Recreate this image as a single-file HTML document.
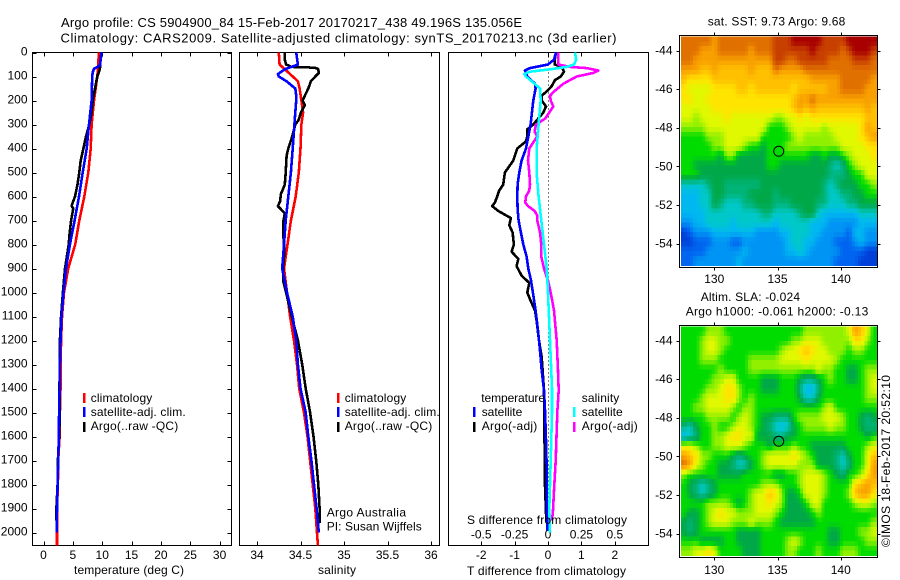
<!DOCTYPE html>
<html>
<head>
<meta charset="utf-8">
<title>Argo profile</title>
<style>
html,body{margin:0;padding:0;background:#fff;width:900px;height:580px;overflow:hidden}
svg{display:block}
text{font-family:"Liberation Sans",sans-serif;font-size:12px;fill:#000}
.t13{font-size:13px}
.frame{fill:none;stroke:#000;stroke-width:1;shape-rendering:crispEdges}
.tick{stroke:#000;stroke-width:1;shape-rendering:crispEdges}
.ser{fill:none;stroke-width:2.6;stroke-linejoin:round;shape-rendering:crispEdges}
</style>
</head>
<body>
<svg id="chart" xmlns="http://www.w3.org/2000/svg" width="900" height="580" viewBox="0 0 900 580">
<text class="t13" x="61" y="27" textLength="461" lengthAdjust="spacing">Argo profile: CS 5904900_84 15-Feb-2017 20170217_438 49.196S 135.056E</text>
<text class="t13" x="60.5" y="42.5" textLength="556" lengthAdjust="spacing">Climatology: CARS2009. Satellite-adjusted climatology: synTS_20170213.nc (3d earlier)</text>

<rect class="frame" x="32.5" y="52.5" width="199" height="493"/>
<rect class="frame" x="239.5" y="52.5" width="200" height="493"/>
<rect class="frame" x="448.5" y="52.5" width="200" height="493"/>
<g id="axes"></g>
<g id="series"></g>

<text x="74" y="574" textLength="110" lengthAdjust="spacing">temperature (deg C)</text>
<text x="318" y="574" textLength="38" lengthAdjust="spacing">salinity</text>
<text x="467" y="575" textLength="159" lengthAdjust="spacing">T difference from climatology</text>
<text x="467" y="524" textLength="160" lengthAdjust="spacing">S difference from climatology</text>

<g>
<rect x="83" y="393" width="2.5" height="10" fill="#f00"/>
<rect x="83" y="407" width="2.5" height="10" fill="#00f"/>
<rect x="83" y="422" width="2.5" height="10" fill="#000"/>
<text x="90.7" y="402" textLength="61.6" lengthAdjust="spacing">climatology</text>
<text x="90.7" y="416" textLength="95" lengthAdjust="spacing">satellite-adj. clim.</text>
<text x="90.7" y="430" textLength="87.6" lengthAdjust="spacing">Argo(..raw -QC)</text>
</g>
<g>
<rect x="337" y="393" width="2.5" height="10" fill="#f00"/>
<rect x="337" y="407" width="2.5" height="10" fill="#00f"/>
<rect x="337" y="422" width="2.5" height="10" fill="#000"/>
<text x="344.7" y="402" textLength="61.6" lengthAdjust="spacing">climatology</text>
<text x="344.7" y="416" textLength="95" lengthAdjust="spacing">satellite-adj. clim.</text>
<text x="344.7" y="430" textLength="87.6" lengthAdjust="spacing">Argo(..raw -QC)</text>
</g>
<text x="326.7" y="516.7" textLength="79.3" lengthAdjust="spacing">Argo Australia</text>
<text x="326.7" y="530.7" textLength="95" lengthAdjust="spacing">PI: Susan Wijffels</text>

<g>
<rect x="473" y="407" width="2.5" height="10" fill="#00f"/>
<rect x="473" y="422" width="2.5" height="10" fill="#000"/>
<rect x="573" y="407" width="2.5" height="10" fill="#0ff"/>
<rect x="573" y="422" width="2.5" height="10" fill="#f0f"/>
<text x="481.3" y="402" textLength="63.7" lengthAdjust="spacing">temperature</text>
<text x="481.7" y="416" textLength="40.6" lengthAdjust="spacing">satellite</text>
<text x="481.7" y="430" textLength="55.6" lengthAdjust="spacing">Argo(-adj)</text>
<text x="581.7" y="402" textLength="37.6" lengthAdjust="spacing">salinity</text>
<text x="581.7" y="416" textLength="41" lengthAdjust="spacing">satellite</text>
<text x="581.7" y="430" textLength="56" lengthAdjust="spacing">Argo(-adj)</text>
</g>

<text x="707.7" y="25.7" textLength="137.6" lengthAdjust="spacing">sat. SST: 9.73  Argo: 9.68</text>
<text x="700.7" y="301" textLength="99.3" lengthAdjust="spacing">Altim. SLA: -0.024</text>
<text x="685.7" y="315.7" textLength="182.6" lengthAdjust="spacing">Argo h1000: -0.061  h2000: -0.13</text>
<g id="maps"></g>
<text transform="translate(890,547) rotate(-90)" x="0" y="0" textLength="172" lengthAdjust="spacing">©IMOS 18-Feb-2017 20:52:10</text>
</svg>
<script>
/* depth levels (m) */
const tempDepths = [0,50,100,200,300,400,500,600,700,800,900,1000,1100,1200,1300,1400,1500,1600,1700,1800,1900,2000,2054];
const tempClim = [9.4,9.35,9.17,8.6,8.2,8.04,7.64,6.95,6.1,5.4,4.2,3.5,3.15,3.0,2.9,2.9,2.8,2.75,2.5,2.45,2.3,2.3,2.3];
const satDepthsT = [0,54,68,82,100,200,300,400,500,600,700,800,900,1000,1100,1200,1300,1400,1500,1600,1700,1800,1900,2000];
const tempSat = [9.9,9.6,8.6,8.38,8.3,8.2,7.75,7.36,6.68,6.05,5.3,4.5,3.83,3.4,3.07,2.9,2.8,2.75,2.65,2.6,2.5,2.4,2.3,2.25];
const argoDepthsT = [0,50,70,100,150,200,250,300,350,400,450,500,550,600,630,640,650,700,750,800,900,1000,1100,1200,1400,1500,1600,1700,1800,1900,1950];
const tempArgo = [9.85,9.65,9.6,9.17,8.77,8.38,8.2,7.8,7.24,6.8,6.33,6.1,5.8,5.37,4.9,4.8,5.08,4.7,4.46,4.3,3.66,3.3,3.0,2.8,2.72,2.8,2.65,2.45,2.4,2.2,2.2];

const salClimDepths = [0,50,70,100,120,150,200,250,300,400,500,600,700,800,900,1000,1100,1200,1300,1400,1500,1600,1700,1800,1900,2000,2054];
const salClim = [34.25,34.26,34.32,34.41,34.47,34.49,34.51,34.53,34.51,34.5,34.48,34.445,34.39,34.35,34.31,34.345,34.38,34.425,34.46,34.485,34.54,34.58,34.61,34.64,34.67,34.69,34.7];
const salSatDepths = [0,50,70,90,100,120,150,180,200,300,400,500,600,700,800,900,1000,1100,1200,1300,1400,1500,1600,1700,1800,1900,2000];
const salSat = [34.45,34.47,34.32,34.24,34.25,34.34,34.44,34.45,34.45,34.43,34.41,34.39,34.36,34.33,34.31,34.29,34.345,34.41,34.45,34.47,34.5,34.56,34.59,34.625,34.655,34.685,34.71];
const salArgoDepths = [0,30,50,60,62,65,70,85,100,120,150,180,200,220,250,280,300,350,400,430,500,550,590,620,640,670,700,750,800,850,900,950,1000,1100,1200,1300,1400,1500,1600,1700,1800,1900,1960];
const salArgo = [34.32,34.32,34.335,34.4,34.59,34.686,34.705,34.71,34.67,34.62,34.59,34.55,34.525,34.55,34.505,34.48,34.44,34.405,34.36,34.34,34.33,34.32,34.275,34.265,34.24,34.32,34.305,34.3,34.31,34.31,34.3,34.3,34.335,34.4,34.47,34.52,34.56,34.61,34.65,34.68,34.705,34.72,34.72];

const diffSatTDepths = [0,30,50,65,75,100,130,150,200,300,350,400,450,500,550,600,650,700,750,800,850,900,950,992,1075,1158,1242,1325,1408,1492,1575,1658,1742,1825,1908,1992];
const diffSatT = [.24,.18,0,-.54,-.69,-.62,-.39,-.37,-.44,-.52,-.59,-.66,-.79,-.86,-.91,-.92,-.91,-.88,-.81,-.74,-.64,-.59,-.51,-.46,-.37,-.3,-.24,-.19,-.12,-.09,-.07,-.05,-.04,-.04,-.03,-.02];
const diffArgoTDepths = [0,30,50,60,80,100,115,140,160,180,200,225,250,275,300,320,350,370,400,450,500,550,575,600,625,640,660,690,720,750,800,830,860,890,930,960,1000,1034,1075,1117,1200,1270,1408,1686,1770,1950];
const diffArgoT = [.24,.2,.2,.41,.48,.38,.21,.11,-.02,-.19,-.19,-.06,-.14,-.29,-.44,-.62,-.62,-.66,-.92,-1.04,-1.29,-1.34,-1.46,-1.52,-1.59,-1.67,-1.49,-1.11,-1.16,-1.06,-1.02,-1.09,-.89,-.94,-.79,-.56,-.62,-.52,-.39,-.34,-.27,-.19,-.12,-.1,-.1,-.05];
const diffSatSDepths = [0,30,50,60,70,80,90,100,130,150,200,300,400,500,600,700,800,900,1000,1200,1400,1500,1700,1900,2000];
const diffSatS = [.2025,.21,.195,.14,.015,-.135,-.178,-.165,-.1,-.06,-.055,-.07,-.085,-.085,-.07,-.05,-.03,-.01,0,.015,.03,.03,.02,.01,.015];
const diffArgoSDepths = [0,30,50,60,65,75,85,100,130,160,180,200,225,250,275,300,330,350,375,400,450,500,550,575,600,625,640,660,680,700,750,800,850,900,950,1000,1075,1200,1325,1408,1492,1575,1700,1825,1908,1950];
const diffArgoS = [.0775,.0775,.0775,.165,.29,.3775,.34,.215,.115,.05,.015,.02,.04,.01,-.02,-.09,-.1,-.08,-.11,-.14,-.15,-.14,-.135,-.14,-.165,-.17,-.15,-.1,-.08,-.08,-.06,-.05,-.05,-.03,0,.02,.045,.065,.075,.08,.07,.065,.0575,.045,.0375,.03];

/* tick labels */
const depthTicks = [0,100,200,300,400,500,600,700,800,900,1000,1100,1200,1300,1400,1500,1600,1700,1800,1900,2000];
const tempTicks = [0,5,10,15,20,25,30];
const salTicks = [34,34.5,35,35.5,36];
const tDiffTicks = [-2,-1,0,1,2];
const sDiffTicks = [-0.5,-0.25,0,0.25,0.5];
const lonTicks = [130,135,140];
const latTicks = [-44,-46,-48,-50,-52,-54];
const argoLon = [135.056];
const argoLat = [-49.196];

/* gridded map values: colour-scale level, 0.5 deg grid, north to south */
const sstGrid = [
[13,13,13,13,13,12,13,13,13,13,13,13,13,13,13,14,14,14,15,15,15,15,15,14,14,14,14,15,15,15,15,15],
[13,13,13,12,12,12,13,13,13,13,13,12,13,13,13,14,14,14,14,14,14,15,14,14,14,14,13,14,15,15,15,14],
[13,13,12,12,12,12,12,12,12,12,12,12,12,12,12,14,14,13,13,14,14,14,14,14,13,13,13,13,14,14,14,13],
[12,12,12,11,11,12,11,11,11,11,11,12,11,11,11,13,12,12,12,12,13,13,13,13,13,13,13,13,13,13,13,13],
[11,10,10,10,10,11,11,11,11,11,11,11,11,11,11,11,11,11,11,11,11,12,12,12,12,12,13,13,13,13,13,12],
[10,9,9,9,9,10,10,10,10,11,11,10,11,11,11,11,11,11,10,11,11,11,11,11,12,12,13,13,13,13,12,12],
[10,10,9,9,10,10,10,10,10,10,10,10,10,10,10,10,10,10,11,12,12,13,12,12,12,12,12,12,12,12,12,12],
[9,9,9,9,9,10,10,10,10,10,10,10,10,10,10,10,10,10,11,12,11,12,11,11,11,11,11,11,11,11,12,11],
[9,9,8,9,9,9,9,10,9,9,9,9,9,9,9,8,8,9,9,10,9,10,10,10,10,10,10,10,10,10,11,11],
[8,8,8,8,9,9,9,9,9,9,9,9,9,9,7,7,7,8,9,9,9,9,9,8,9,9,9,9,9,10,12,11],
[7,7,7,7,8,8,8,9,9,9,9,9,9,7,7,7,7,7,8,9,8,8,8,8,8,9,9,9,9,10,11,12],
[7,7,7,7,7,8,8,9,9,9,8,7,7,6,7,7,7,8,8,8,8,8,8,8,8,8,9,9,9,9,10,10],
[7,7,7,7,7,7,6,8,8,6,6,6,6,6,7,7,7,7,7,7,7,6,6,7,6,6,7,8,9,9,9,10],
[7,7,6,6,6,6,6,6,6,6,6,6,6,6,7,7,6,6,6,6,6,6,6,6,5,4,5,7,8,9,9,9],
[7,7,7,6,6,6,6,6,6,6,6,6,6,6,6,6,6,6,6,6,6,6,6,6,5,5,5,6,7,7,9,9],
[4,4,4,4,5,6,6,5,5,5,5,5,5,6,6,6,6,6,6,6,6,6,6,5,4,5,6,6,6,7,7,8],
[3,3,3,4,4,6,6,5,5,5,5,6,6,6,6,5,6,6,6,6,6,6,6,5,4,4,5,5,6,6,7,7],
[3,3,3,4,4,6,5,4,4,4,5,5,6,6,6,5,5,5,6,6,6,6,5,5,4,4,4,5,5,6,6,6],
[3,3,3,3,4,4,4,4,4,4,4,4,4,5,5,4,4,4,4,5,6,6,4,3,3,3,3,3,3,4,4,4],
[2,2,3,3,4,4,4,4,3,4,4,4,4,4,4,3,4,4,4,4,4,3,3,3,2,2,2,2,2,3,3,3],
[0,1,2,2,2,3,3,3,3,3,3,3,2,2,2,2,3,3,4,4,4,3,3,2,2,2,2,1,3,3,2,2],
[0,0,1,1,1,2,2,2,1,1,2,2,2,2,2,2,2,3,4,4,3,3,2,2,2,1,1,1,2,3,2,2],
[1,1,1,1,2,2,2,2,2,2,3,2,2,2,2,2,2,3,3,4,3,2,2,2,2,2,1,1,1,1,0,0],
[1,1,2,2,2,2,2,2,2,3,2,2,2,2,2,2,2,2,2,2,2,2,2,2,2,1,1,1,1,0,0,0]
];
const slaGrid = [
[7,7,7,7,8,8,8,7,7,7,7,7,7,7,7,7,7,7,7,7,8,8,8,8,8,8,8,9,12,11,9,7],
[7,7,7,8,9,9,8,8,7,7,7,7,7,7,7,7,7,7,8,8,9,9,9,8,8,8,8,8,10,10,8,7],
[7,7,7,8,9,9,8,7,7,7,7,7,7,7,7,7,8,9,9,10,11,10,9,9,8,8,8,7,8,8,7,7],
[7,7,7,8,8,8,7,7,7,7,7,8,8,8,8,8,9,9,9,9,10,9,9,9,9,8,7,7,7,7,7,7],
[7,7,7,7,7,7,8,7,7,7,7,8,8,8,8,8,8,8,8,8,8,8,9,8,8,7,7,6,6,7,8,8],
[7,7,7,7,7,8,8,9,9,7,7,7,7,6,6,6,7,7,7,6,5,5,6,7,8,7,7,6,6,7,8,9],
[7,7,7,7,8,8,9,10,10,8,7,7,7,6,6,6,7,7,7,5,3,3,5,7,7,7,7,7,7,7,8,9],
[7,7,7,8,9,9,9,10,10,8,7,8,7,7,7,7,7,7,7,6,4,4,6,7,7,7,7,7,7,7,8,8],
[7,7,8,8,9,9,9,9,8,7,8,8,7,7,7,7,7,7,7,7,7,7,7,8,9,7,7,7,7,7,7,7],
[7,7,7,7,8,8,8,8,7,8,9,8,7,6,6,5,5,5,7,8,8,8,8,9,9,9,8,7,7,6,5,6],
[5,4,6,7,7,8,7,7,8,9,9,8,7,6,5,4,3,4,6,7,8,8,8,8,9,8,8,7,7,6,5,5],
[3,4,5,7,7,8,8,9,10,10,9,9,6,6,6,5,5,6,6,7,7,7,7,7,7,7,7,7,7,7,6,7],
[9,9,8,7,7,8,8,9,9,9,8,7,7,7,6,7,7,7,8,7,7,6,6,6,6,6,6,7,7,7,8,9],
[12,11,10,8,8,7,7,7,6,5,6,7,7,8,9,9,9,9,10,9,8,7,6,6,6,5,4,6,7,7,9,11],
[13,12,9,8,7,7,6,6,5,4,4,6,7,8,9,9,9,9,9,8,8,8,6,6,6,5,4,5,7,7,9,12],
[8,7,7,7,7,7,6,6,6,6,7,7,7,7,7,6,6,7,7,8,9,9,9,8,7,6,5,7,7,8,10,12],
[7,6,5,4,5,6,7,7,7,7,7,7,7,8,8,8,7,7,7,8,9,9,9,8,7,7,7,7,10,11,12,11],
[7,6,5,4,5,6,7,7,7,7,7,8,9,9,11,10,8,6,6,7,9,9,9,8,7,7,7,8,11,12,12,10],
[7,7,7,7,8,8,8,8,7,6,7,8,9,9,10,9,8,6,6,6,7,9,9,7,7,7,7,7,8,9,9,8],
[7,6,6,7,8,9,10,9,9,8,8,8,9,9,9,8,7,6,6,6,6,7,8,7,7,7,7,7,7,7,7,7],
[6,5,6,7,8,9,9,9,8,8,8,9,8,8,8,7,6,6,6,6,6,6,7,7,7,7,7,7,7,7,7,8],
[6,5,6,7,7,7,7,7,7,6,6,6,6,7,7,7,7,7,7,7,7,7,7,7,6,6,7,7,7,8,8,9],
[7,7,7,6,6,6,6,7,7,6,6,6,6,7,7,7,7,8,9,8,7,7,7,7,6,6,7,7,7,7,8,8],
[8,8,9,9,10,9,7,7,7,7,6,6,6,7,7,7,7,8,8,7,7,7,8,7,7,7,8,8,8,7,7,7]
];
const colourScale = [[0,64,216],[0,100,240],[0,148,244],[0,184,240],[0,200,200],[0,180,120],[0,168,72],[0,220,0],[144,240,0],[224,248,0],[255,228,0],[255,192,0],[248,160,0],[224,112,0],[200,64,0],[168,0,0]];

const NS = 'http://www.w3.org/2000/svg';
function mk(parent, tag, attrs, txt){
  const el = document.createElementNS(NS, tag);
  for (const k in attrs) el.setAttribute(k, attrs[k]);
  if (txt !== undefined) el.textContent = txt;
  parent.appendChild(el);
  return el;
}
const depthY = d => 52.5 + 0.24 * d;
const tempX = t => 43.5 + 5.87 * t;
const salX = s => 257 + 87 * (s - 34);
const tDiffX = v => 548 + 33.4 * v;
const sDiffX = v => 548 + 133.6 * v;

const axes = document.getElementById('axes');
const series = document.getElementById('series');

depthTicks.forEach(d => {
  const y = Math.round(depthY(d)) + 0.5;
  const lab = mk(axes, 'text', {x: 27.5, y: depthY(d) + 3, 'text-anchor': 'end'}, String(d));
  
  
  const a = mk(axes, 'line', {class: 'tick', x1: 32.5, x2: 36.5, y1: y, y2: y});
  
  
  const b = mk(axes, 'line', {class: 'tick', x1: 227.5, x2: 231.5, y1: y, y2: y});
  
  
});

function xAxis(ticks, fn, name){
  ticks.forEach(v => {
    const x = Math.round(fn(v)) + 0.5;
    const t1 = mk(axes, 'line', {class: 'tick', x1: x, x2: x, y1: 52.5, y2: 56.5});
    
    
    const t2 = mk(axes, 'line', {class: 'tick', x1: x, x2: x, y1: 541.5, y2: 545.5});
    
    
    const lab = mk(axes, 'text', {x: fn(v), y: 559, 'text-anchor': 'middle'}, String(v));
    
    
  });
}
xAxis(tempTicks, tempX, 'temperature');
xAxis(salTicks, salX, 'salinity');
xAxis(tDiffTicks, tDiffX, 't-difference');
sDiffTicks.forEach(v => {
  const lab = mk(axes, 'text', {x: sDiffX(v), y: 538.7, 'text-anchor': 'middle'}, String(v));
  
  
});

const zero = mk(axes, 'line', {x1: tDiffX(0) + 0.5, x2: tDiffX(0) + 0.5, y1: depthY(0), y2: depthY(2000), stroke: '#000', 'stroke-width': 1, 'stroke-dasharray': '1 3', 'shape-rendering': 'crispEdges'});



function drawLine(depths, vals, fn, colour, name, width){
  const pts = depths.map((d, i) => fn(vals[i]).toFixed(1) + ',' + depthY(d).toFixed(1)).join(' ');
  const pl = mk(series, 'polyline', {class: 'ser', points: pts, stroke: colour, 'stroke-width': width || 2.6});
  
  
}
drawLine(tempDepths, tempClim, tempX, '#f00', 'temperature-climatology-line');
drawLine(argoDepthsT, tempArgo, tempX, '#000', 'temperature-argo-line');
drawLine(satDepthsT, tempSat, tempX, '#00f', 'temperature-satellite-line');
drawLine(salClimDepths, salClim, salX, '#f00', 'salinity-climatology-line');
drawLine(salArgoDepths, salArgo, salX, '#000', 'salinity-argo-line');
drawLine(salSatDepths, salSat, salX, '#00f', 'salinity-satellite-line');
drawLine(diffArgoTDepths, diffArgoT, tDiffX, '#000', 't-difference-argo-line');
drawLine(diffSatTDepths, diffSatT, tDiffX, '#00f', 't-difference-satellite-line');
drawLine(diffArgoSDepths, diffArgoS, sDiffX, '#f0f', 's-difference-argo-line');
drawLine(diffSatSDepths, diffSatS, sDiffX, '#0ff', 's-difference-satellite-line');

function levelColour(v){
  const m = colourScale.length - 1;
  const c = Math.max(0, Math.min(m, v));
  const i = Math.min(m - 1, Math.floor(c));
  const f = c - i;
  const a = colourScale[i], b = colourScale[i + 1];
  return 'rgb(' + [0, 1, 2].map(k => Math.round(a[k] + (b[k] - a[k]) * f)).join(',') + ')';
}
/* renders each grid value on the map's native 0.25 deg pixel grid */
function gridValue(grid, ry, cx){
  const rows = grid.length, cols = grid[0].length;
  const y = Math.max(0, Math.min(rows - 1, ry));
  const x = Math.max(0, Math.min(cols - 1, cx));
  const r0 = Math.min(rows - 2, Math.floor(y)), c0 = Math.min(cols - 2, Math.floor(x));
  const fy = y - r0, fx = x - c0;
  return (grid[r0][c0] * (1 - fx) + grid[r0][c0 + 1] * fx) * (1 - fy) + (grid[r0 + 1][c0] * (1 - fx) + grid[r0 + 1][c0 + 1] * fx) * fy;
}

const maps = document.getElementById('maps');
function drawMap(grid, top, labelBase, name){
  const L = 679.5, R = 877.5, B = top + 232;
  const lonX = lon => 777.5 + (lon - 135) * 12.65;
  const latY = lat => top + 15.5 + (-44 - lat) * 19.3;
  const g = mk(maps, 'g', {});
  
  
  const cells = mk(g, 'g', {'shape-rendering': 'crispEdges'});
  const sub = 2;
  const rows = grid.length * sub, cols = grid[0].length * sub;
  const cw = 195.5 / cols, ch = 229 / rows;
  for (let r = 0; r < rows; r++) {
    for (let c = 0; c < cols; c++) {
      const v = gridValue(grid, (r + 0.5) / sub - 0.5, (c + 0.5) / sub - 0.5);
      const cell = mk(cells, 'rect', {x: (681 + c * cw).toFixed(2), y: (top + 1.5 + r * ch).toFixed(2), width: (cw + 0.5).toFixed(2), height: (ch + 0.5).toFixed(2), fill: levelColour(v)});
      
      
    }
  }
  const fr = mk(g, 'rect', {class: 'frame', x: L, y: top + 0.5, width: R - L, height: 232});
  
  
  lonTicks.forEach(lon => {
    const x = Math.round(lonX(lon)) + 0.5;
    const a = mk(g, 'line', {class: 'tick', x1: x, x2: x, y1: top - 2.5, y2: top + 0.5});
    
    
    const b = mk(g, 'line', {class: 'tick', x1: x, x2: x, y1: B + 0.5, y2: B + 3.5});
    
    
    const t = mk(g, 'text', {x: lonX(lon), y: labelBase, 'text-anchor': 'middle'}, String(lon));
    
    
  });
  latTicks.forEach(lat => {
    const y = Math.round(latY(lat)) + 0.5;
    const a = mk(g, 'line', {class: 'tick', x1: L - 3, x2: L, y1: y, y2: y});
    
    
    const b = mk(g, 'line', {class: 'tick', x1: R, x2: R + 3, y1: y, y2: y});
    
    
    const t = mk(g, 'text', {x: 672.5, y: latY(lat) + 4, 'text-anchor': 'end'}, String(lat));
    
    
  });
  const c = mk(g, 'circle', {cx: lonX(argoLon[0]) + 0.5, cy: latY(argoLat[0]) + 0.5, r: 5, fill: 'none', stroke: '#000', 'stroke-width': 1});
  
  
}
drawMap(sstGrid, 35, 283, 'sst-map');
drawMap(slaGrid, 325, 574, 'sla-map');
</script>
</body>
</html>
